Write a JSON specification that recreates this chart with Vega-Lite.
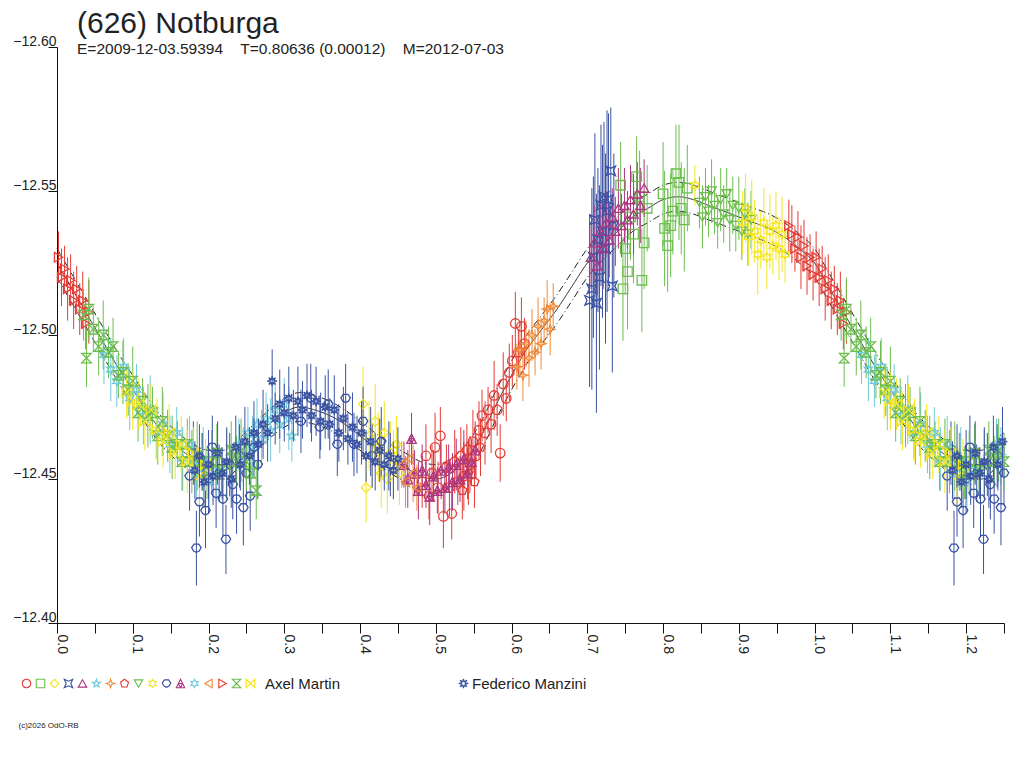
{
  "$schema": "https://vega.github.io/schema/vega-lite/v6.json",
  "description": "Lightcurve of (626) Notburga, reduced magnitude against rotational phase.",
  "autosize": {"type": "none"},
  "width": 947,
  "height": 576,
  "padding": {"left": 57, "top": 47, "right": 20, "bottom": 145},
  "background": "white",
  "title": {
    "text": "(626) Notburga",
    "subtitle": "E=2009-12-03.59394\u00a0\u00a0\u00a0\u00a0T=0.80636 (0.00012)\u00a0\u00a0\u00a0\u00a0M=2012-07-03",
    "anchor": "start",
    "frame": "group",
    "dx": 20,
    "offset": -23,
    "font": "Liberation Sans",
    "fontSize": 30,
    "fontWeight": "normal",
    "color": "#222222",
    "subtitleFont": "Liberation Sans",
    "subtitleFontSize": 15.5,
    "subtitleColor": "#222222",
    "subtitlePadding": 3
  },
  "datasets": {
    "fit": [
      {"k":"c","p":0.00,"m":-12.525},{"k":"u","p":0.00,"m":-12.530},{"k":"l","p":0.00,"m":-12.520},
      {"k":"c","p":0.02,"m":-12.516},{"k":"u","p":0.02,"m":-12.521},{"k":"l","p":0.02,"m":-12.511},
      {"k":"c","p":0.04,"m":-12.507},{"k":"u","p":0.04,"m":-12.512},{"k":"l","p":0.04,"m":-12.502},
      {"k":"c","p":0.06,"m":-12.498},{"k":"u","p":0.06,"m":-12.503},{"k":"l","p":0.06,"m":-12.493},
      {"k":"c","p":0.08,"m":-12.489},{"k":"u","p":0.08,"m":-12.494},{"k":"l","p":0.08,"m":-12.484},
      {"k":"c","p":0.10,"m":-12.481},{"k":"u","p":0.10,"m":-12.486},{"k":"l","p":0.10,"m":-12.476},
      {"k":"c","p":0.12,"m":-12.473},{"k":"u","p":0.12,"m":-12.478},{"k":"l","p":0.12,"m":-12.468},
      {"k":"c","p":0.14,"m":-12.466},{"k":"u","p":0.14,"m":-12.471},{"k":"l","p":0.14,"m":-12.461},
      {"k":"c","p":0.16,"m":-12.461},{"k":"u","p":0.16,"m":-12.466},{"k":"l","p":0.16,"m":-12.456},
      {"k":"c","p":0.18,"m":-12.457},{"k":"u","p":0.18,"m":-12.462},{"k":"l","p":0.18,"m":-12.452},
      {"k":"c","p":0.20,"m":-12.455},{"k":"u","p":0.20,"m":-12.460},{"k":"l","p":0.20,"m":-12.450},
      {"k":"c","p":0.22,"m":-12.455},{"k":"u","p":0.22,"m":-12.460},{"k":"l","p":0.22,"m":-12.450},
      {"k":"c","p":0.24,"m":-12.459},{"k":"u","p":0.24,"m":-12.464},{"k":"l","p":0.24,"m":-12.454},
      {"k":"c","p":0.26,"m":-12.464},{"k":"u","p":0.26,"m":-12.469},{"k":"l","p":0.26,"m":-12.459},
      {"k":"c","p":0.28,"m":-12.469},{"k":"u","p":0.28,"m":-12.474},{"k":"l","p":0.28,"m":-12.464},
      {"k":"c","p":0.30,"m":-12.473},{"k":"u","p":0.30,"m":-12.478},{"k":"l","p":0.30,"m":-12.468},
      {"k":"c","p":0.32,"m":-12.475},{"k":"u","p":0.32,"m":-12.480},{"k":"l","p":0.32,"m":-12.470},
      {"k":"c","p":0.34,"m":-12.474},{"k":"u","p":0.34,"m":-12.479},{"k":"l","p":0.34,"m":-12.469},
      {"k":"c","p":0.36,"m":-12.472},{"k":"u","p":0.36,"m":-12.477},{"k":"l","p":0.36,"m":-12.467},
      {"k":"c","p":0.38,"m":-12.469},{"k":"u","p":0.38,"m":-12.474},{"k":"l","p":0.38,"m":-12.464},
      {"k":"c","p":0.40,"m":-12.465},{"k":"u","p":0.40,"m":-12.470},{"k":"l","p":0.40,"m":-12.460},
      {"k":"c","p":0.42,"m":-12.461},{"k":"u","p":0.42,"m":-12.466},{"k":"l","p":0.42,"m":-12.456},
      {"k":"c","p":0.44,"m":-12.457},{"k":"u","p":0.44,"m":-12.462},{"k":"l","p":0.44,"m":-12.452},
      {"k":"c","p":0.46,"m":-12.454},{"k":"u","p":0.46,"m":-12.459},{"k":"l","p":0.46,"m":-12.449},
      {"k":"c","p":0.48,"m":-12.451},{"k":"u","p":0.48,"m":-12.456},{"k":"l","p":0.48,"m":-12.446},
      {"k":"c","p":0.50,"m":-12.450},{"k":"u","p":0.50,"m":-12.455},{"k":"l","p":0.50,"m":-12.445},
      {"k":"c","p":0.52,"m":-12.452},{"k":"u","p":0.52,"m":-12.457},{"k":"l","p":0.52,"m":-12.447},
      {"k":"c","p":0.54,"m":-12.457},{"k":"u","p":0.54,"m":-12.462},{"k":"l","p":0.54,"m":-12.452},
      {"k":"c","p":0.56,"m":-12.465},{"k":"u","p":0.56,"m":-12.470},{"k":"l","p":0.56,"m":-12.460},
      {"k":"c","p":0.58,"m":-12.476},{"k":"u","p":0.58,"m":-12.481},{"k":"l","p":0.58,"m":-12.471},
      {"k":"c","p":0.60,"m":-12.486},{"k":"u","p":0.60,"m":-12.491},{"k":"l","p":0.60,"m":-12.481},
      {"k":"c","p":0.62,"m":-12.495},{"k":"u","p":0.62,"m":-12.500},{"k":"l","p":0.62,"m":-12.490},
      {"k":"c","p":0.64,"m":-12.502},{"k":"u","p":0.64,"m":-12.507},{"k":"l","p":0.64,"m":-12.497},
      {"k":"c","p":0.66,"m":-12.509},{"k":"u","p":0.66,"m":-12.514},{"k":"l","p":0.66,"m":-12.504},
      {"k":"c","p":0.68,"m":-12.517},{"k":"u","p":0.68,"m":-12.522},{"k":"l","p":0.68,"m":-12.512},
      {"k":"c","p":0.70,"m":-12.525},{"k":"u","p":0.70,"m":-12.530},{"k":"l","p":0.70,"m":-12.520},
      {"k":"c","p":0.72,"m":-12.531},{"k":"u","p":0.72,"m":-12.536},{"k":"l","p":0.72,"m":-12.526},
      {"k":"c","p":0.74,"m":-12.536},{"k":"u","p":0.74,"m":-12.541},{"k":"l","p":0.74,"m":-12.531},
      {"k":"c","p":0.76,"m":-12.541},{"k":"u","p":0.76,"m":-12.546},{"k":"l","p":0.76,"m":-12.536},
      {"k":"c","p":0.78,"m":-12.544},{"k":"u","p":0.78,"m":-12.549},{"k":"l","p":0.78,"m":-12.539},
      {"k":"c","p":0.80,"m":-12.547},{"k":"u","p":0.80,"m":-12.552},{"k":"l","p":0.80,"m":-12.542},
      {"k":"c","p":0.82,"m":-12.548},{"k":"u","p":0.82,"m":-12.553},{"k":"l","p":0.82,"m":-12.543},
      {"k":"c","p":0.84,"m":-12.547},{"k":"u","p":0.84,"m":-12.552},{"k":"l","p":0.84,"m":-12.542},
      {"k":"c","p":0.86,"m":-12.545},{"k":"u","p":0.86,"m":-12.550},{"k":"l","p":0.86,"m":-12.540},
      {"k":"c","p":0.88,"m":-12.543},{"k":"u","p":0.88,"m":-12.548},{"k":"l","p":0.88,"m":-12.538},
      {"k":"c","p":0.90,"m":-12.541},{"k":"u","p":0.90,"m":-12.546},{"k":"l","p":0.90,"m":-12.536},
      {"k":"c","p":0.92,"m":-12.539},{"k":"u","p":0.92,"m":-12.544},{"k":"l","p":0.92,"m":-12.534},
      {"k":"c","p":0.94,"m":-12.537},{"k":"u","p":0.94,"m":-12.542},{"k":"l","p":0.94,"m":-12.532},
      {"k":"c","p":0.96,"m":-12.534},{"k":"u","p":0.96,"m":-12.539},{"k":"l","p":0.96,"m":-12.529},
      {"k":"c","p":0.98,"m":-12.530},{"k":"u","p":0.98,"m":-12.535},{"k":"l","p":0.98,"m":-12.525},
      {"k":"c","p":1.00,"m":-12.525},{"k":"u","p":1.00,"m":-12.530},{"k":"l","p":1.00,"m":-12.520},
      {"k":"c","p":1.02,"m":-12.516},{"k":"u","p":1.02,"m":-12.521},{"k":"l","p":1.02,"m":-12.511},
      {"k":"c","p":1.04,"m":-12.507},{"k":"u","p":1.04,"m":-12.512},{"k":"l","p":1.04,"m":-12.502},
      {"k":"c","p":1.06,"m":-12.498},{"k":"u","p":1.06,"m":-12.503},{"k":"l","p":1.06,"m":-12.493},
      {"k":"c","p":1.08,"m":-12.489},{"k":"u","p":1.08,"m":-12.494},{"k":"l","p":1.08,"m":-12.484},
      {"k":"c","p":1.10,"m":-12.481},{"k":"u","p":1.10,"m":-12.486},{"k":"l","p":1.10,"m":-12.476},
      {"k":"c","p":1.12,"m":-12.473},{"k":"u","p":1.12,"m":-12.478},{"k":"l","p":1.12,"m":-12.468},
      {"k":"c","p":1.14,"m":-12.466},{"k":"u","p":1.14,"m":-12.471},{"k":"l","p":1.14,"m":-12.461},
      {"k":"c","p":1.16,"m":-12.461},{"k":"u","p":1.16,"m":-12.466},{"k":"l","p":1.16,"m":-12.456},
      {"k":"c","p":1.18,"m":-12.457},{"k":"u","p":1.18,"m":-12.462},{"k":"l","p":1.18,"m":-12.452},
      {"k":"c","p":1.20,"m":-12.455},{"k":"u","p":1.20,"m":-12.460},{"k":"l","p":1.20,"m":-12.450},
      {"k":"c","p":1.22,"m":-12.455},{"k":"u","p":1.22,"m":-12.460},{"k":"l","p":1.22,"m":-12.450},
      {"k":"c","p":1.24,"m":-12.459},{"k":"u","p":1.24,"m":-12.464},{"k":"l","p":1.24,"m":-12.454},
      {"k":"c","p":1.25,"m":-12.461},{"k":"u","p":1.25,"m":-12.466},{"k":"l","p":1.25,"m":-12.456}
    ],
    "axel": [
      {"s":"A01","p":0.482,"m":-12.449,"e":0.009},{"s":"A01","p":0.487,"m":-12.458,"e":0.011},
      {"s":"A01","p":0.491,"m":-12.444,"e":0.008},{"s":"A01","p":0.495,"m":-12.452,"e":0.010},
      {"s":"A01","p":0.499,"m":-12.461,"e":0.012},{"s":"A01","p":0.503,"m":-12.447,"e":0.009},
      {"s":"A01","p":0.506,"m":-12.465,"e":0.010},{"s":"A01","p":0.510,"m":-12.437,"e":0.011},
      {"s":"A01","p":0.514,"m":-12.454,"e":0.008},{"s":"A01","p":0.518,"m":-12.447,"e":0.010},
      {"s":"A01","p":0.521,"m":-12.438,"e":0.009},{"s":"A01","p":0.525,"m":-12.456,"e":0.011},
      {"s":"A01","p":0.529,"m":-12.449,"e":0.008},{"s":"A01","p":0.533,"m":-12.458,"e":0.010},
      {"s":"A01","p":0.537,"m":-12.451,"e":0.012},{"s":"A01","p":0.541,"m":-12.460,"e":0.009},
      {"s":"A01","p":0.545,"m":-12.455,"e":0.010},{"s":"A01","p":0.549,"m":-12.463,"e":0.011},
      {"s":"A01","p":0.553,"m":-12.458,"e":0.008},{"s":"A01","p":0.557,"m":-12.467,"e":0.010},
      {"s":"A01","p":0.561,"m":-12.472,"e":0.009},{"s":"A01","p":0.565,"m":-12.466,"e":0.011},
      {"s":"A01","p":0.569,"m":-12.474,"e":0.008},{"s":"A01","p":0.573,"m":-12.469,"e":0.010},
      {"s":"A01","p":0.577,"m":-12.479,"e":0.012},{"s":"A01","p":0.581,"m":-12.474,"e":0.009},
      {"s":"A01","p":0.585,"m":-12.459,"e":0.010},{"s":"A01","p":0.589,"m":-12.483,"e":0.011},
      {"s":"A01","p":0.593,"m":-12.478,"e":0.008},{"s":"A01","p":0.597,"m":-12.487,"e":0.010},
      {"s":"A01","p":0.601,"m":-12.491,"e":0.009},{"s":"A01","p":0.605,"m":-12.504,"e":0.011},
      {"s":"A01","p":0.609,"m":-12.494,"e":0.008},{"s":"A01","p":0.613,"m":-12.503,"e":0.010},
      {"s":"A01","p":0.617,"m":-12.497,"e":0.009},
      {"s":"A02","p":0.744,"m":-12.552,"e":0.015},{"s":"A02","p":0.747,"m":-12.516,"e":0.018},
      {"s":"A02","p":0.750,"m":-12.530,"e":0.016},{"s":"A02","p":0.753,"m":-12.522,"e":0.020},
      {"s":"A02","p":0.757,"m":-12.541,"e":0.015},{"s":"A02","p":0.761,"m":-12.535,"e":0.017},
      {"s":"A02","p":0.765,"m":-12.555,"e":0.014},{"s":"A02","p":0.769,"m":-12.548,"e":0.016},
      {"s":"A02","p":0.772,"m":-12.519,"e":0.018},{"s":"A02","p":0.775,"m":-12.532,"e":0.016},
      {"s":"A02","p":0.779,"m":-12.544,"e":0.015},{"s":"A02","p":0.800,"m":-12.549,"e":0.018},
      {"s":"A02","p":0.802,"m":-12.537,"e":0.020},{"s":"A02","p":0.806,"m":-12.531,"e":0.016},
      {"s":"A02","p":0.810,"m":-12.538,"e":0.018},{"s":"A02","p":0.813,"m":-12.543,"e":0.015},
      {"s":"A02","p":0.817,"m":-12.556,"e":0.017},{"s":"A02","p":0.821,"m":-12.553,"e":0.020},
      {"s":"A02","p":0.824,"m":-12.544,"e":0.016},{"s":"A02","p":0.828,"m":-12.540,"e":0.018},
      {"s":"A02","p":0.832,"m":-12.551,"e":0.015},
      {"s":"A03","p":0.404,"m":-12.476,"e":0.013},{"s":"A03","p":0.408,"m":-12.447,"e":0.012},
      {"s":"A03","p":0.412,"m":-12.465,"e":0.012},{"s":"A03","p":0.416,"m":-12.458,"e":0.011},
      {"s":"A03","p":0.420,"m":-12.470,"e":0.013},{"s":"A03","p":0.424,"m":-12.461,"e":0.012},
      {"s":"A03","p":0.428,"m":-12.452,"e":0.012},{"s":"A03","p":0.432,"m":-12.466,"e":0.011},
      {"s":"A03","p":0.436,"m":-12.450,"e":0.012},{"s":"A03","p":0.440,"m":-12.459,"e":0.011},
      {"s":"A03","p":0.444,"m":-12.455,"e":0.012},{"s":"A03","p":0.448,"m":-12.462,"e":0.010},
      {"s":"A03","p":0.452,"m":-12.452,"e":0.011},
      {"s":"A04","p":0.703,"m":-12.512,"e":0.030},{"s":"A04","p":0.706,"m":-12.516,"e":0.035},
      {"s":"A04","p":0.708,"m":-12.527,"e":0.028},{"s":"A04","p":0.710,"m":-12.540,"e":0.030},
      {"s":"A04","p":0.712,"m":-12.511,"e":0.038},{"s":"A04","p":0.714,"m":-12.533,"e":0.025},
      {"s":"A04","p":0.716,"m":-12.520,"e":0.032},{"s":"A04","p":0.718,"m":-12.545,"e":0.028},
      {"s":"A04","p":0.720,"m":-12.536,"e":0.030},{"s":"A04","p":0.722,"m":-12.548,"e":0.026},
      {"s":"A04","p":0.724,"m":-12.530,"e":0.033},{"s":"A04","p":0.726,"m":-12.543,"e":0.035},
      {"s":"A04","p":0.728,"m":-12.547,"e":0.030},{"s":"A04","p":0.731,"m":-12.557,"e":0.022},
      {"s":"A04","p":0.733,"m":-12.517,"e":0.030},{"s":"A04","p":0.735,"m":-12.538,"e":0.025},
      {"s":"A05","p":0.705,"m":-12.527,"e":0.011},{"s":"A05","p":0.709,"m":-12.532,"e":0.013},
      {"s":"A05","p":0.713,"m":-12.524,"e":0.010},{"s":"A05","p":0.717,"m":-12.536,"e":0.012},
      {"s":"A05","p":0.721,"m":-12.530,"e":0.014},{"s":"A05","p":0.725,"m":-12.539,"e":0.011},
      {"s":"A05","p":0.729,"m":-12.533,"e":0.013},{"s":"A05","p":0.733,"m":-12.541,"e":0.010},
      {"s":"A05","p":0.737,"m":-12.536,"e":0.012},{"s":"A05","p":0.741,"m":-12.544,"e":0.014},
      {"s":"A05","p":0.745,"m":-12.538,"e":0.011},{"s":"A05","p":0.749,"m":-12.545,"e":0.013},
      {"s":"A05","p":0.753,"m":-12.540,"e":0.010},{"s":"A05","p":0.757,"m":-12.547,"e":0.012},
      {"s":"A05","p":0.761,"m":-12.542,"e":0.014},{"s":"A05","p":0.766,"m":-12.549,"e":0.011},
      {"s":"A05","p":0.770,"m":-12.545,"e":0.013},{"s":"A05","p":0.775,"m":-12.551,"e":0.010},
      {"s":"A06","p":0.240,"m":-12.462,"e":0.009},{"s":"A06","p":0.246,"m":-12.458,"e":0.010},
      {"s":"A06","p":0.252,"m":-12.466,"e":0.009},{"s":"A06","p":0.258,"m":-12.461,"e":0.011},
      {"s":"A06","p":0.264,"m":-12.469,"e":0.009},{"s":"A06","p":0.270,"m":-12.464,"e":0.010},
      {"s":"A06","p":0.276,"m":-12.471,"e":0.009},{"s":"A06","p":0.282,"m":-12.467,"e":0.011},
      {"s":"A06","p":0.288,"m":-12.474,"e":0.009},{"s":"A06","p":0.294,"m":-12.469,"e":0.010},
      {"s":"A06","p":0.300,"m":-12.476,"e":0.009},{"s":"A06","p":0.306,"m":-12.471,"e":0.011},
      {"s":"A06","p":0.310,"m":-12.465,"e":0.009},
      {"s":"A06","p":1.240,"m":-12.462,"e":0.009},{"s":"A06","p":1.246,"m":-12.458,"e":0.010},
      {"s":"A07","p":0.607,"m":-12.489,"e":0.008},{"s":"A07","p":0.611,"m":-12.495,"e":0.010},
      {"s":"A07","p":0.615,"m":-12.486,"e":0.009},{"s":"A07","p":0.619,"m":-12.497,"e":0.008},
      {"s":"A07","p":0.623,"m":-12.492,"e":0.010},{"s":"A07","p":0.627,"m":-12.500,"e":0.009},
      {"s":"A07","p":0.631,"m":-12.494,"e":0.008},{"s":"A07","p":0.635,"m":-12.503,"e":0.010},
      {"s":"A07","p":0.639,"m":-12.497,"e":0.009},{"s":"A07","p":0.643,"m":-12.505,"e":0.008},
      {"s":"A07","p":0.647,"m":-12.509,"e":0.010},{"s":"A07","p":0.651,"m":-12.502,"e":0.009},
      {"s":"A07","p":0.655,"m":-12.510,"e":0.008},
      {"s":"A08","p":0.535,"m":-12.446,"e":0.010},{"s":"A08","p":0.543,"m":-12.452,"e":0.011},
      {"s":"A08","p":0.551,"m":-12.449,"e":0.009},{"s":"A08","p":0.559,"m":-12.461,"e":0.010},
      {"s":"A09","p":0.848,"m":-12.546,"e":0.009},{"s":"A09","p":0.852,"m":-12.541,"e":0.011},
      {"s":"A09","p":0.856,"m":-12.548,"e":0.010},{"s":"A09","p":0.860,"m":-12.543,"e":0.009},
      {"s":"A09","p":0.864,"m":-12.550,"e":0.011},{"s":"A09","p":0.868,"m":-12.545,"e":0.010},
      {"s":"A09","p":0.872,"m":-12.539,"e":0.009},{"s":"A09","p":0.876,"m":-12.547,"e":0.011},
      {"s":"A09","p":0.880,"m":-12.542,"e":0.010},{"s":"A09","p":0.884,"m":-12.549,"e":0.009},
      {"s":"A09","p":0.888,"m":-12.540,"e":0.011},{"s":"A09","p":0.892,"m":-12.545,"e":0.010},
      {"s":"A09","p":0.896,"m":-12.538,"e":0.009},{"s":"A09","p":0.900,"m":-12.544,"e":0.011},
      {"s":"A09","p":0.904,"m":-12.536,"e":0.010},{"s":"A09","p":0.908,"m":-12.542,"e":0.009},
      {"s":"A09","p":0.912,"m":-12.535,"e":0.011},{"s":"A09","p":0.916,"m":-12.540,"e":0.010},
      {"s":"A10","p":0.842,"m":-12.552,"e":0.007},
      {"s":"A10","p":0.905,"m":-12.539,"e":0.011},{"s":"A10","p":0.909,"m":-12.544,"e":0.012},
      {"s":"A10","p":0.913,"m":-12.534,"e":0.010},{"s":"A10","p":0.917,"m":-12.541,"e":0.013},
      {"s":"A10","p":0.921,"m":-12.536,"e":0.011},{"s":"A10","p":0.925,"m":-12.528,"e":0.014},
      {"s":"A10","p":0.929,"m":-12.533,"e":0.010},{"s":"A10","p":0.933,"m":-12.539,"e":0.012},
      {"s":"A10","p":0.937,"m":-12.527,"e":0.011},{"s":"A10","p":0.941,"m":-12.536,"e":0.013},
      {"s":"A10","p":0.945,"m":-12.531,"e":0.010},{"s":"A10","p":0.949,"m":-12.538,"e":0.012},
      {"s":"A10","p":0.953,"m":-12.530,"e":0.011},{"s":"A10","p":0.957,"m":-12.535,"e":0.013},
      {"s":"A10","p":0.961,"m":-12.528,"e":0.010},
      {"s":"A11","p":0.175,"m":-12.451,"e":0.012},{"s":"A11","p":0.180,"m":-12.459,"e":0.011},
      {"s":"A11","p":0.184,"m":-12.426,"e":0.013},{"s":"A11","p":0.188,"m":-12.442,"e":0.012},
      {"s":"A11","p":0.192,"m":-12.456,"e":0.010},{"s":"A11","p":0.196,"m":-12.439,"e":0.013},
      {"s":"A11","p":0.200,"m":-12.450,"e":0.012},{"s":"A11","p":0.205,"m":-12.461,"e":0.011},
      {"s":"A11","p":0.210,"m":-12.445,"e":0.012},{"s":"A11","p":0.214,"m":-12.452,"e":0.010},
      {"s":"A11","p":0.219,"m":-12.443,"e":0.013},{"s":"A11","p":0.223,"m":-12.429,"e":0.012},
      {"s":"A11","p":0.228,"m":-12.455,"e":0.011},{"s":"A11","p":0.232,"m":-12.448,"e":0.012},
      {"s":"A11","p":0.237,"m":-12.443,"e":0.012},{"s":"A11","p":0.241,"m":-12.458,"e":0.011},
      {"s":"A11","p":0.246,"m":-12.440,"e":0.013},{"s":"A11","p":0.250,"m":-12.452,"e":0.011},
      {"s":"A11","p":0.255,"m":-12.444,"e":0.012},{"s":"A11","p":0.260,"m":-12.461,"e":0.010},
      {"s":"A11","p":0.265,"m":-12.455,"e":0.012},
      {"s":"A11","p":0.322,"m":-12.470,"e":0.011},{"s":"A11","p":0.335,"m":-12.478,"e":0.012},
      {"s":"A11","p":0.347,"m":-12.468,"e":0.011},{"s":"A11","p":0.358,"m":-12.476,"e":0.012},
      {"s":"A11","p":0.370,"m":-12.462,"e":0.011},{"s":"A11","p":0.381,"m":-12.478,"e":0.012},
      {"s":"A11","p":0.392,"m":-12.462,"e":0.011},{"s":"A11","p":0.404,"m":-12.470,"e":0.012},
      {"s":"A11","p":0.416,"m":-12.458,"e":0.011},{"s":"A11","p":0.428,"m":-12.463,"e":0.012},
      {"s":"A11","p":0.440,"m":-12.455,"e":0.011},
      {"s":"A11","p":1.175,"m":-12.451,"e":0.012},{"s":"A11","p":1.180,"m":-12.459,"e":0.011},
      {"s":"A11","p":1.184,"m":-12.426,"e":0.013},{"s":"A11","p":1.188,"m":-12.442,"e":0.012},
      {"s":"A11","p":1.192,"m":-12.456,"e":0.010},{"s":"A11","p":1.196,"m":-12.439,"e":0.013},
      {"s":"A11","p":1.200,"m":-12.450,"e":0.012},{"s":"A11","p":1.205,"m":-12.461,"e":0.011},
      {"s":"A11","p":1.210,"m":-12.445,"e":0.012},{"s":"A11","p":1.214,"m":-12.452,"e":0.010},
      {"s":"A11","p":1.219,"m":-12.443,"e":0.013},{"s":"A11","p":1.223,"m":-12.429,"e":0.012},
      {"s":"A11","p":1.228,"m":-12.455,"e":0.011},{"s":"A11","p":1.232,"m":-12.448,"e":0.012},
      {"s":"A11","p":1.237,"m":-12.443,"e":0.012},{"s":"A11","p":1.241,"m":-12.458,"e":0.011},
      {"s":"A11","p":1.246,"m":-12.440,"e":0.013},{"s":"A11","p":1.250,"m":-12.452,"e":0.011},
      {"s":"A12","p":0.458,"m":-12.455,"e":0.008},{"s":"A12","p":0.463,"m":-12.450,"e":0.010},
      {"s":"A12","p":0.468,"m":-12.464,"e":0.009},{"s":"A12","p":0.472,"m":-12.452,"e":0.008},
      {"s":"A12","p":0.477,"m":-12.446,"e":0.010},{"s":"A12","p":0.482,"m":-12.453,"e":0.009},
      {"s":"A12","p":0.487,"m":-12.448,"e":0.008},{"s":"A12","p":0.492,"m":-12.444,"e":0.010},
      {"s":"A12","p":0.497,"m":-12.451,"e":0.009},{"s":"A12","p":0.502,"m":-12.446,"e":0.008},
      {"s":"A12","p":0.507,"m":-12.453,"e":0.010},{"s":"A12","p":0.512,"m":-12.447,"e":0.009},
      {"s":"A12","p":0.517,"m":-12.454,"e":0.008},{"s":"A12","p":0.522,"m":-12.449,"e":0.010},
      {"s":"A12","p":0.527,"m":-12.455,"e":0.009},{"s":"A12","p":0.532,"m":-12.450,"e":0.008},
      {"s":"A12","p":0.537,"m":-12.457,"e":0.010},{"s":"A12","p":0.542,"m":-12.452,"e":0.009},
      {"s":"A12","p":0.547,"m":-12.456,"e":0.008},{"s":"A12","p":0.552,"m":-12.460,"e":0.010},
      {"s":"A13","p":0.062,"m":-12.493,"e":0.010},{"s":"A13","p":0.071,"m":-12.488,"e":0.011},
      {"s":"A13","p":0.079,"m":-12.484,"e":0.009},{"s":"A13","p":0.088,"m":-12.489,"e":0.010},
      {"s":"A13","p":0.096,"m":-12.478,"e":0.011},{"s":"A13","p":0.105,"m":-12.481,"e":0.009},
      {"s":"A13","p":0.114,"m":-12.472,"e":0.010},{"s":"A13","p":0.123,"m":-12.474,"e":0.012},
      {"s":"A13","p":0.131,"m":-12.466,"e":0.009},{"s":"A13","p":0.140,"m":-12.469,"e":0.011},
      {"s":"A13","p":0.149,"m":-12.462,"e":0.010},{"s":"A13","p":0.158,"m":-12.466,"e":0.009},
      {"s":"A13","p":0.166,"m":-12.457,"e":0.011},{"s":"A13","p":0.175,"m":-12.462,"e":0.010},
      {"s":"A13","p":0.184,"m":-12.452,"e":0.009},{"s":"A13","p":0.193,"m":-12.457,"e":0.011},
      {"s":"A13","p":0.201,"m":-12.449,"e":0.010},{"s":"A13","p":0.210,"m":-12.453,"e":0.009},
      {"s":"A13","p":1.062,"m":-12.493,"e":0.010},{"s":"A13","p":1.071,"m":-12.488,"e":0.011},
      {"s":"A13","p":1.079,"m":-12.484,"e":0.009},{"s":"A13","p":1.088,"m":-12.489,"e":0.010},
      {"s":"A13","p":1.096,"m":-12.478,"e":0.011},{"s":"A13","p":1.105,"m":-12.481,"e":0.009},
      {"s":"A13","p":1.114,"m":-12.472,"e":0.010},{"s":"A13","p":1.123,"m":-12.474,"e":0.012},
      {"s":"A13","p":1.131,"m":-12.466,"e":0.009},{"s":"A13","p":1.140,"m":-12.469,"e":0.011},
      {"s":"A13","p":1.149,"m":-12.462,"e":0.010},{"s":"A13","p":1.158,"m":-12.466,"e":0.009},
      {"s":"A13","p":1.166,"m":-12.457,"e":0.011},{"s":"A13","p":1.175,"m":-12.462,"e":0.010},
      {"s":"A13","p":1.184,"m":-12.452,"e":0.009},{"s":"A13","p":1.193,"m":-12.457,"e":0.011},
      {"s":"A13","p":1.201,"m":-12.449,"e":0.010},{"s":"A13","p":1.210,"m":-12.453,"e":0.009},
      {"s":"A14","p":0.455,"m":-12.455,"e":0.008},{"s":"A14","p":0.460,"m":-12.449,"e":0.009},
      {"s":"A14","p":0.465,"m":-12.457,"e":0.008},{"s":"A14","p":0.470,"m":-12.452,"e":0.010},
      {"s":"A14","p":0.475,"m":-12.447,"e":0.008},
      {"s":"A15","p":0.966,"m":-12.538,"e":0.009},{"s":"A15","p":0.970,"m":-12.535,"e":0.010},
      {"s":"A15","p":0.974,"m":-12.530,"e":0.008},{"s":"A15","p":0.978,"m":-12.534,"e":0.009},
      {"s":"A15","p":0.982,"m":-12.527,"e":0.011},{"s":"A15","p":0.986,"m":-12.531,"e":0.009},
      {"s":"A15","p":0.990,"m":-12.524,"e":0.010},{"s":"A15","p":0.994,"m":-12.527,"e":0.008},
      {"s":"A15","p":0.998,"m":-12.521,"e":0.009},
      {"s":"A15","p":0.002,"m":-12.527,"e":0.009},{"s":"A15","p":0.006,"m":-12.520,"e":0.010},
      {"s":"A15","p":0.010,"m":-12.523,"e":0.008},{"s":"A15","p":0.014,"m":-12.516,"e":0.011},
      {"s":"A15","p":0.018,"m":-12.519,"e":0.009},{"s":"A15","p":0.022,"m":-12.512,"e":0.010},
      {"s":"A15","p":0.026,"m":-12.516,"e":0.008},{"s":"A15","p":0.030,"m":-12.509,"e":0.009},
      {"s":"A15","p":0.034,"m":-12.512,"e":0.010},{"s":"A15","p":0.038,"m":-12.504,"e":0.009},
      {"s":"A15","p":0.042,"m":-12.508,"e":0.011},
      {"s":"A15","p":1.002,"m":-12.527,"e":0.009},{"s":"A15","p":1.006,"m":-12.520,"e":0.010},
      {"s":"A15","p":1.010,"m":-12.523,"e":0.008},{"s":"A15","p":1.014,"m":-12.516,"e":0.011},
      {"s":"A15","p":1.018,"m":-12.519,"e":0.009},{"s":"A15","p":1.022,"m":-12.512,"e":0.010},
      {"s":"A15","p":1.026,"m":-12.516,"e":0.008},{"s":"A15","p":1.030,"m":-12.509,"e":0.009},
      {"s":"A15","p":1.034,"m":-12.512,"e":0.010},{"s":"A15","p":1.038,"m":-12.504,"e":0.009},
      {"s":"A15","p":1.042,"m":-12.508,"e":0.011},
      {"s":"A16","p":0.035,"m":-12.507,"e":0.009},{"s":"A16","p":0.039,"m":-12.492,"e":0.010},
      {"s":"A16","p":0.042,"m":-12.509,"e":0.011},{"s":"A16","p":0.048,"m":-12.502,"e":0.008},
      {"s":"A16","p":0.055,"m":-12.496,"e":0.010},{"s":"A16","p":0.061,"m":-12.500,"e":0.012},
      {"s":"A16","p":0.068,"m":-12.494,"e":0.009},{"s":"A16","p":0.074,"m":-12.496,"e":0.010},
      {"s":"A16","p":0.081,"m":-12.486,"e":0.008},{"s":"A16","p":0.087,"m":-12.487,"e":0.011},
      {"s":"A16","p":0.094,"m":-12.481,"e":0.009},{"s":"A16","p":0.100,"m":-12.484,"e":0.012},
      {"s":"A16","p":0.107,"m":-12.473,"e":0.010},{"s":"A16","p":0.113,"m":-12.477,"e":0.008},
      {"s":"A16","p":0.120,"m":-12.472,"e":0.011},{"s":"A16","p":0.126,"m":-12.473,"e":0.009},
      {"s":"A16","p":0.133,"m":-12.465,"e":0.010},{"s":"A16","p":0.139,"m":-12.470,"e":0.012},
      {"s":"A16","p":0.146,"m":-12.465,"e":0.009},{"s":"A16","p":0.152,"m":-12.461,"e":0.011},
      {"s":"A16","p":0.159,"m":-12.462,"e":0.008},{"s":"A16","p":0.165,"m":-12.456,"e":0.010},
      {"s":"A16","p":0.172,"m":-12.462,"e":0.009},{"s":"A16","p":0.178,"m":-12.456,"e":0.011},
      {"s":"A16","p":0.185,"m":-12.458,"e":0.012},{"s":"A16","p":0.191,"m":-12.456,"e":0.010},
      {"s":"A16","p":0.198,"m":-12.452,"e":0.009},{"s":"A16","p":0.204,"m":-12.456,"e":0.011},
      {"s":"A16","p":0.211,"m":-12.459,"e":0.010},{"s":"A16","p":0.217,"m":-12.453,"e":0.008},
      {"s":"A16","p":0.224,"m":-12.455,"e":0.012},{"s":"A16","p":0.230,"m":-12.460,"e":0.010},
      {"s":"A16","p":0.237,"m":-12.456,"e":0.009},{"s":"A16","p":0.243,"m":-12.460,"e":0.011},
      {"s":"A16","p":0.250,"m":-12.456,"e":0.010},{"s":"A16","p":0.256,"m":-12.452,"e":0.009},
      {"s":"A16","p":0.263,"m":-12.446,"e":0.010},
      {"s":"A16","p":1.035,"m":-12.507,"e":0.009},{"s":"A16","p":1.039,"m":-12.492,"e":0.010},
      {"s":"A16","p":1.042,"m":-12.509,"e":0.011},{"s":"A16","p":1.048,"m":-12.502,"e":0.008},
      {"s":"A16","p":1.055,"m":-12.496,"e":0.010},{"s":"A16","p":1.061,"m":-12.500,"e":0.012},
      {"s":"A16","p":1.068,"m":-12.494,"e":0.009},{"s":"A16","p":1.074,"m":-12.496,"e":0.010},
      {"s":"A16","p":1.081,"m":-12.486,"e":0.008},{"s":"A16","p":1.087,"m":-12.487,"e":0.011},
      {"s":"A16","p":1.094,"m":-12.481,"e":0.009},{"s":"A16","p":1.100,"m":-12.484,"e":0.012},
      {"s":"A16","p":1.107,"m":-12.473,"e":0.010},{"s":"A16","p":1.113,"m":-12.477,"e":0.008},
      {"s":"A16","p":1.120,"m":-12.472,"e":0.011},{"s":"A16","p":1.126,"m":-12.473,"e":0.009},
      {"s":"A16","p":1.133,"m":-12.465,"e":0.010},{"s":"A16","p":1.139,"m":-12.470,"e":0.012},
      {"s":"A16","p":1.146,"m":-12.465,"e":0.009},{"s":"A16","p":1.152,"m":-12.461,"e":0.011},
      {"s":"A16","p":1.159,"m":-12.462,"e":0.008},{"s":"A16","p":1.165,"m":-12.456,"e":0.010},
      {"s":"A16","p":1.172,"m":-12.462,"e":0.009},{"s":"A16","p":1.178,"m":-12.456,"e":0.011},
      {"s":"A16","p":1.185,"m":-12.458,"e":0.012},{"s":"A16","p":1.191,"m":-12.456,"e":0.010},
      {"s":"A16","p":1.198,"m":-12.452,"e":0.009},{"s":"A16","p":1.204,"m":-12.456,"e":0.011},
      {"s":"A16","p":1.211,"m":-12.459,"e":0.010},{"s":"A16","p":1.217,"m":-12.453,"e":0.008},
      {"s":"A16","p":1.224,"m":-12.455,"e":0.012},{"s":"A16","p":1.230,"m":-12.460,"e":0.010},
      {"s":"A16","p":1.237,"m":-12.456,"e":0.009},{"s":"A16","p":1.243,"m":-12.460,"e":0.011},
      {"s":"A16","p":1.250,"m":-12.456,"e":0.010},
      {"s":"A17","p":0.092,"m":-12.480,"e":0.009},{"s":"A17","p":0.100,"m":-12.477,"e":0.010},
      {"s":"A17","p":0.108,"m":-12.476,"e":0.009},{"s":"A17","p":0.116,"m":-12.470,"e":0.010},
      {"s":"A17","p":0.124,"m":-12.474,"e":0.009},{"s":"A17","p":0.132,"m":-12.467,"e":0.011},
      {"s":"A17","p":0.140,"m":-12.463,"e":0.009},{"s":"A17","p":0.148,"m":-12.466,"e":0.010},
      {"s":"A17","p":0.156,"m":-12.459,"e":0.009},{"s":"A17","p":0.164,"m":-12.462,"e":0.010},
      {"s":"A17","p":0.172,"m":-12.456,"e":0.011},{"s":"A17","p":0.180,"m":-12.459,"e":0.009},
      {"s":"A17","p":0.188,"m":-12.451,"e":0.010},{"s":"A17","p":0.196,"m":-12.455,"e":0.009},
      {"s":"A17","p":1.092,"m":-12.480,"e":0.009},{"s":"A17","p":1.100,"m":-12.477,"e":0.010},
      {"s":"A17","p":1.108,"m":-12.476,"e":0.009},{"s":"A17","p":1.116,"m":-12.470,"e":0.010},
      {"s":"A17","p":1.124,"m":-12.474,"e":0.009},{"s":"A17","p":1.132,"m":-12.467,"e":0.011},
      {"s":"A17","p":1.140,"m":-12.463,"e":0.009},{"s":"A17","p":1.148,"m":-12.466,"e":0.010},
      {"s":"A17","p":1.156,"m":-12.459,"e":0.009},{"s":"A17","p":1.164,"m":-12.462,"e":0.010},
      {"s":"A17","p":1.172,"m":-12.456,"e":0.011},{"s":"A17","p":1.180,"m":-12.459,"e":0.009},
      {"s":"A17","p":1.188,"m":-12.451,"e":0.010},{"s":"A17","p":1.196,"m":-12.455,"e":0.009}
    ],
    "fed": [
      {"s":"Federico Manzini","p":0.182,"m":-12.453,"e":0.010},{"s":"Federico Manzini","p":0.188,"m":-12.458,"e":0.011},
      {"s":"Federico Manzini","p":0.194,"m":-12.449,"e":0.009},{"s":"Federico Manzini","p":0.200,"m":-12.455,"e":0.012},
      {"s":"Federico Manzini","p":0.206,"m":-12.451,"e":0.010},{"s":"Federico Manzini","p":0.212,"m":-12.459,"e":0.011},
      {"s":"Federico Manzini","p":0.218,"m":-12.452,"e":0.009},{"s":"Federico Manzini","p":0.224,"m":-12.456,"e":0.012},
      {"s":"Federico Manzini","p":0.230,"m":-12.450,"e":0.010},{"s":"Federico Manzini","p":0.236,"m":-12.461,"e":0.011},
      {"s":"Federico Manzini","p":0.242,"m":-12.455,"e":0.009},{"s":"Federico Manzini","p":0.248,"m":-12.463,"e":0.012},
      {"s":"Federico Manzini","p":0.254,"m":-12.458,"e":0.010},{"s":"Federico Manzini","p":0.260,"m":-12.466,"e":0.011},
      {"s":"Federico Manzini","p":0.266,"m":-12.462,"e":0.009},{"s":"Federico Manzini","p":0.272,"m":-12.469,"e":0.012},
      {"s":"Federico Manzini","p":0.278,"m":-12.466,"e":0.010},{"s":"Federico Manzini","p":0.284,"m":-12.484,"e":0.011},
      {"s":"Federico Manzini","p":0.288,"m":-12.471,"e":0.009},{"s":"Federico Manzini","p":0.294,"m":-12.476,"e":0.012},
      {"s":"Federico Manzini","p":0.300,"m":-12.473,"e":0.010},{"s":"Federico Manzini","p":0.306,"m":-12.478,"e":0.011},
      {"s":"Federico Manzini","p":0.312,"m":-12.472,"e":0.009},{"s":"Federico Manzini","p":0.318,"m":-12.477,"e":0.012},
      {"s":"Federico Manzini","p":0.324,"m":-12.474,"e":0.010},{"s":"Federico Manzini","p":0.330,"m":-12.479,"e":0.011},
      {"s":"Federico Manzini","p":0.336,"m":-12.472,"e":0.009},{"s":"Federico Manzini","p":0.342,"m":-12.477,"e":0.012},
      {"s":"Federico Manzini","p":0.348,"m":-12.470,"e":0.010},{"s":"Federico Manzini","p":0.354,"m":-12.475,"e":0.011},
      {"s":"Federico Manzini","p":0.360,"m":-12.469,"e":0.009},{"s":"Federico Manzini","p":0.366,"m":-12.474,"e":0.012},
      {"s":"Federico Manzini","p":0.372,"m":-12.466,"e":0.010},{"s":"Federico Manzini","p":0.378,"m":-12.471,"e":0.011},
      {"s":"Federico Manzini","p":0.384,"m":-12.464,"e":0.009},{"s":"Federico Manzini","p":0.390,"m":-12.468,"e":0.012},
      {"s":"Federico Manzini","p":0.396,"m":-12.462,"e":0.010},{"s":"Federico Manzini","p":0.402,"m":-12.466,"e":0.011},
      {"s":"Federico Manzini","p":0.408,"m":-12.458,"e":0.009},{"s":"Federico Manzini","p":0.414,"m":-12.463,"e":0.012},
      {"s":"Federico Manzini","p":0.420,"m":-12.456,"e":0.010},{"s":"Federico Manzini","p":0.426,"m":-12.460,"e":0.011},
      {"s":"Federico Manzini","p":0.432,"m":-12.455,"e":0.009},{"s":"Federico Manzini","p":0.438,"m":-12.458,"e":0.012},
      {"s":"Federico Manzini","p":0.444,"m":-12.453,"e":0.010},{"s":"Federico Manzini","p":0.450,"m":-12.457,"e":0.011},
      {"s":"Federico Manzini","p":1.182,"m":-12.453,"e":0.010},{"s":"Federico Manzini","p":1.188,"m":-12.458,"e":0.011},
      {"s":"Federico Manzini","p":1.194,"m":-12.449,"e":0.009},{"s":"Federico Manzini","p":1.200,"m":-12.455,"e":0.012},
      {"s":"Federico Manzini","p":1.206,"m":-12.451,"e":0.010},{"s":"Federico Manzini","p":1.212,"m":-12.459,"e":0.011},
      {"s":"Federico Manzini","p":1.218,"m":-12.452,"e":0.009},{"s":"Federico Manzini","p":1.224,"m":-12.456,"e":0.012},
      {"s":"Federico Manzini","p":1.230,"m":-12.450,"e":0.010},{"s":"Federico Manzini","p":1.236,"m":-12.461,"e":0.011},
      {"s":"Federico Manzini","p":1.242,"m":-12.455,"e":0.009},{"s":"Federico Manzini","p":1.248,"m":-12.463,"e":0.012}
    ]
  },
  "encoding": {
    "x": {
      "field": "p",
      "type": "quantitative",
      "scale": {"domain": [0, 1.25], "nice": false, "zero": false},
      "axis": {
        "values": [0, 0.05, 0.1, 0.15, 0.2, 0.25, 0.3, 0.35, 0.4, 0.45, 0.5, 0.55, 0.6, 0.65, 0.7, 0.75, 0.8, 0.85, 0.9, 0.95, 1, 1.05, 1.1, 1.15, 1.2, 1.25],
        "labelExpr": "abs(datum.value * 10 - round(datum.value * 10)) < 0.01 ? format(datum.value, '.1f') : ''",
        "tickSize": 10,
        "labelAngle": 90,
        "labelAlign": "left",
        "labelBaseline": "alphabetic",
        "labelPadding": 1,
        "labelFlush": false,
        "labelOverlap": false,
        "title": "(c)2026 OdO-RB",
        "titleX": -39,
        "titleY": 102,
        "titleAlign": "left",
        "titleAnchor": "start",
        "titleBaseline": "middle",
        "titleFontSize": 8,
        "titleFontWeight": "normal",
        "titleColor": "#222222"
      }
    },
    "y": {
      "field": "m",
      "type": "quantitative",
      "scale": {"domain": [-12.6, -12.4], "reverse": true, "nice": false, "zero": false},
      "axis": {
        "values": [-12.6, -12.55, -12.5, -12.45, -12.4],
        "format": ".2f",
        "tickSize": 9,
        "labelPadding": -8,
        "labelBaseline": "alphabetic",
        "labelOffset": -2,
        "labelFlush": false,
        "labelOverlap": false,
        "title": null
      }
    }
  },
  "layer": [
    {
      "data": {"name": "fit"},
      "mark": {"type": "line", "color": "#222222", "strokeWidth": 1, "interpolate": "monotone"},
      "encoding": {
        "strokeDash": {
          "field": "k",
          "type": "nominal",
          "scale": {"domain": ["c", "u", "l"], "range": [[1, 0], [7, 3, 1, 3], [7, 3, 1, 3]]},
          "legend": null
        }
      }
    },
    {
      "data": {"name": "axel"},
      "mark": {"type": "errorbar", "thickness": 1},
      "encoding": {
        "yError": {"field": "e"},
        "color": {
          "field": "s",
          "type": "nominal",
          "scale": {
            "domain": ["A01","A02","A03","A04","A05","A06","A07","A08","A09","A10","A11","A12","A13","A14","A15","A16","A17"],
            "range": ["#e53a33","#6dbe4f","#f5e51b","#3a52a2","#ad3582","#6fcadb","#f08a36","#e53a33","#6dbe4f","#f5e51b","#3a52a2","#ad3582","#6fcadb","#f08a36","#e53a33","#6dbe4f","#f5e51b"]
          },
          "legend": null
        }
      }
    },
    {
      "data": {"name": "axel"},
      "mark": {"type": "point", "filled": false, "size": 90, "strokeWidth": 1.3, "opacity": 1},
      "encoding": {
        "color": {
          "field": "s",
          "type": "nominal",
          "scale": {
            "domain": ["A01","A02","A03","A04","A05","A06","A07","A08","A09","A10","A11","A12","A13","A14","A15","A16","A17"],
            "range": ["#e53a33","#6dbe4f","#f5e51b","#3a52a2","#ad3582","#6fcadb","#f08a36","#e53a33","#6dbe4f","#f5e51b","#3a52a2","#ad3582","#6fcadb","#f08a36","#e53a33","#6dbe4f","#f5e51b"]
          },
          "legend": {
            "orient": "none",
            "legendX": -38,
            "legendY": 629,
            "direction": "horizontal",
            "columns": 17,
            "columnPadding": 0,
            "gridAlign": "none",
            "padding": 0,
            "title": null,
            "labelExpr": "datum.label == 'A17' ? '\u2800Axel Martin' : ''",
            "labelOffset": -4,
            "labelFont": "Liberation Sans",
            "labelFontSize": 15,
            "labelColor": "#222222",
            "symbolSize": 72,
            "symbolStrokeWidth": 1.1
          }
        },
        "shape": {
          "field": "s",
          "type": "nominal",
          "scale": {
            "domain": ["A01","A02","A03","A04","A05","A06","A07","A08","A09","A10","A11","A12","A13","A14","A15","A16","A17"],
            "range": [
              "circle",
              "square",
              "diamond",
              "M-1,-1L0,-0.55L1,-1L0.55,0L1,1L0,0.55L-1,1L-0.55,0Z",
              "triangle-up",
              "M0,-1L0.235,-0.324L0.951,-0.309L0.38,0.124L0.588,0.809L0,0.4L-0.588,0.809L-0.38,0.124L-0.951,-0.309L-0.235,-0.324Z",
              "M0,-1L0.25,-0.25L1,0L0.25,0.25L0,1L-0.25,0.25L-1,0L-0.25,-0.25Z",
              "M0,-1L0.951,-0.309L0.588,0.809L-0.588,0.809L-0.951,-0.309Z",
              "triangle-down",
              "M0,-1L0.29,-0.5L0.866,-0.5L0.577,0L0.866,0.5L0.29,0.5L0,1L-0.29,0.5L-0.866,0.5L-0.577,0L-0.866,-0.5L-0.29,-0.5Z",
              "M-0.5,-0.85L0.5,-0.85L1,-0.1L0.6,0.6L0,0.9L-0.6,0.6L-1,-0.1Z",
              "M0,-1L0.5,0L-0.5,0Z M-0.5,0L-1,1L0,1Z M0.5,0L0,1L1,1Z",
              "M0,-1L0.25,-0.43L0.87,-0.5L0.5,0L0.87,0.5L0.25,0.43L0,1L-0.25,0.43L-0.87,0.5L-0.5,0L-0.87,-0.5L-0.25,-0.43Z",
              "triangle-left",
              "triangle-right",
              "M-1,-1L1,-1L0,0L1,1L-1,1L0,0Z",
              "M-1,-1L0,0L1,-1L1,1L0,0L-1,1Z"
            ]
          }
        }
      }
    },
    {
      "data": {"name": "fed"},
      "mark": {"type": "errorbar", "thickness": 1},
      "encoding": {
        "yError": {"field": "e"},
        "color": {
          "field": "s",
          "type": "nominal",
          "scale": {"domain": ["Federico Manzini"], "range": ["#3a52a2"]},
          "legend": null
        }
      }
    },
    {
      "data": {"name": "fed"},
      "mark": {"type": "point", "filled": false, "size": 90, "strokeWidth": 1.3, "opacity": 1},
      "encoding": {
        "color": {
          "field": "s",
          "type": "nominal",
          "scale": {"domain": ["Federico Manzini"], "range": ["#3a52a2"]},
          "legend": {
            "orient": "none",
            "legendX": 399,
            "legendY": 629,
            "direction": "horizontal",
            "padding": 0,
            "title": null,
            "labelOffset": 1,
            "labelFont": "Liberation Sans",
            "labelFontSize": 15,
            "labelColor": "#222222",
            "symbolSize": 90,
            "symbolStrokeWidth": 1.1
          }
        },
        "shape": {
          "field": "s",
          "type": "nominal",
          "scale": {
            "domain": ["Federico Manzini"],
            "range": ["M0,-1L0.153,-0.37L0.707,-0.707L0.37,-0.153L1,0L0.37,0.153L0.707,0.707L0.153,0.37L0,1L-0.153,0.37L-0.707,0.707L-0.37,0.153L-1,0L-0.37,-0.153L-0.707,-0.707L-0.153,-0.37Z"]
          }
        }
      }
    }
  ],
  "resolve": {"scale": {"color": "independent", "shape": "independent", "strokeDash": "independent"}},
  "config": {
    "font": "Liberation Sans",
    "view": {"stroke": null},
    "axis": {
      "grid": false,
      "domainColor": "#111111",
      "domainWidth": 1,
      "tickColor": "#111111",
      "tickWidth": 1,
      "labelFont": "Liberation Sans",
      "labelFontSize": 14,
      "labelColor": "#222222",
      "titleFont": "Liberation Sans"
    }
  }
}
